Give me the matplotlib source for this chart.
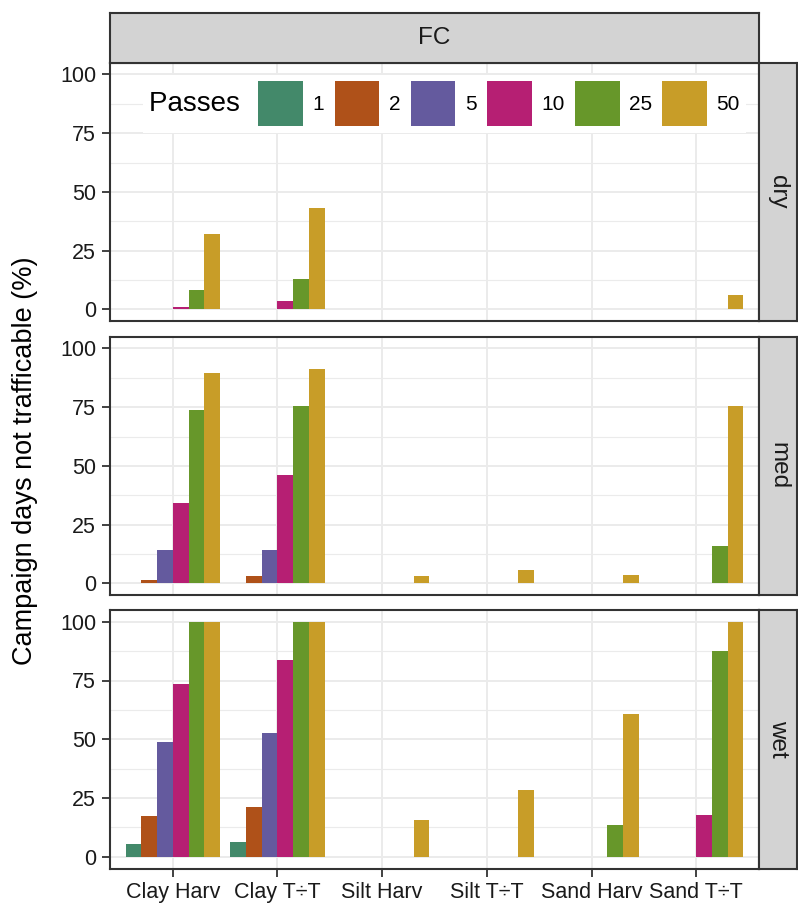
import matplotlib
matplotlib.use('Agg')
import matplotlib.pyplot as plt
import numpy as np
from matplotlib.ticker import MultipleLocator, FixedLocator
from matplotlib.patches import Patch

plt.rcParams['font.family'] = ['Liberation Sans', 'DejaVu Sans']

# ---------------- data ----------------
categories = ['Clay Harv', 'Clay T÷T', 'Silt Harv', 'Silt T÷T', 'Sand Harv', 'Sand T÷T']
passes = ['1', '2', '5', '10', '25', '50']
moisture = ['dry', 'med', 'wet']
column_label = 'FC'
y_ticks = [0, 25, 50, 75, 100]
y_label = 'Campaign days not trafficable (%)'
legend_title = 'Passes'

# rows = passes (1, 2, 5, 10, 25, 50); columns = categories
dry = [
    [0, 0, 0, 0, 0, 0],
    [0, 0, 0, 0, 0, 0],
    [0, 0, 0, 0, 0, 0],
    [1.0, 3.7, 0, 0, 0, 0],
    [8.2, 12.8, 0, 0, 0, 0],
    [32.0, 43.0, 0, 0, 0, 6.1],
]
med = [
    [0, 0, 0, 0, 0, 0],
    [1.4, 3.0, 0, 0, 0, 0],
    [14.1, 14.1, 0, 0, 0, 0],
    [34.3, 46.3, 0, 0, 0, 0],
    [73.8, 75.5, 0, 0, 0, 15.8],
    [89.6, 91.3, 3.0, 5.8, 3.8, 75.5],
]
wet = [
    [5.4, 6.4, 0, 0, 0, 0],
    [17.4, 21.2, 0, 0, 0, 0],
    [48.9, 52.6, 0, 0, 0, 0],
    [73.6, 83.9, 0, 0, 0, 17.7],
    [99.7, 99.7, 0, 0, 13.7, 87.7],
    [100.0, 100.0, 15.6, 28.6, 60.7, 99.7],
]
panel_data = [dry, med, wet]

colors = ['#43896A', '#AF5119', '#645A9E', '#B61F73', '#67972A', '#C89D28']

# ---------------- layout ----------------
W, H = 798, 909
fig = plt.figure(figsize=(W / 100, H / 100), dpi=100)
fig.patch.set_facecolor('white')

px_left, px_right = 110, 759
panel_tops = [62.7, 336.7, 610.0]
panel_h = 258.5
border_col = '#333333'
strip_col = '#D3D3D3'
grid_col = '#EBEBEB'

def fx(px):
    return px / W

def fy(py):
    return 1 - py / H

x = np.arange(1, len(categories) + 1)
bw = 0.15
axes = []
for i, (mname, data) in enumerate(zip(moisture, panel_data)):
    top = panel_tops[i]
    ax = fig.add_axes([fx(px_left), fy(top + panel_h), fx(px_right - px_left), panel_h / H])
    axes.append(ax)
    for j, p in enumerate(passes):
        ax.bar(x + (j - 2.5) * bw, data[j], width=bw, color=colors[j], label=p,
               linewidth=0, zorder=3)
    ax.set_xlim(0.4, 6.6)
    ax.set_ylim(-5, 105)
    ax.yaxis.set_major_locator(FixedLocator(y_ticks))
    ax.yaxis.set_minor_locator(MultipleLocator(12.5))
    ax.set_xticks(x)
    ax.set_axisbelow(True)
    ax.grid(which='major', color=grid_col, lw=1.4, zorder=0)
    ax.grid(which='minor', axis='y', color=grid_col, lw=0.8, zorder=0)
    ax.tick_params(which='minor', length=0)
    ax.tick_params(axis='y', which='major', length=6, width=1.3, color=border_col,
                   labelsize=15.5, labelcolor='#1a1a1a', pad=4)
    if i < 2:
        ax.tick_params(axis='x', which='major', length=0, labelbottom=False)
    else:
        ax.set_xticklabels(categories)
        ax.tick_params(axis='x', which='major', length=6, width=1.3, color=border_col,
                       labelsize=15.5, labelcolor='#1a1a1a', pad=4)
    for s in ax.spines.values():
        s.set_color(border_col)
        s.set_linewidth(1.5)
        s.set_zorder(5)

    # right strip
    sax = fig.add_axes([fx(px_right), fy(top + panel_h), fx(797 - px_right), panel_h / H])
    sax.set_facecolor(strip_col)
    sax.set_xticks([])
    sax.set_yticks([])
    for s in sax.spines.values():
        s.set_color(border_col)
        s.set_linewidth(1.5)
    sax.text(0.5, 0.5, mname, rotation=-90, ha='center', va='center',
             fontsize=17.5, color='#1a1a1a', transform=sax.transAxes)

# top strip
tax = fig.add_axes([fx(px_left), fy(62.7), fx(px_right - px_left), 50 / H])
tax.set_facecolor(strip_col)
tax.set_xticks([])
tax.set_yticks([])
for s in tax.spines.values():
    s.set_color(border_col)
    s.set_linewidth(1.5)
tax.text(0.5, 0.5, column_label, ha='center', va='center', fontsize=17.5,
         color='#1a1a1a', transform=tax.transAxes)

# y label
fig.text(fx(25), fy(461), y_label, rotation=90, ha='center', va='center',
         fontsize=19.5, color='black')

# legend (horizontal, title on the left)
handles = [Patch(facecolor=c, edgecolor='none') for c in colors]
ax0 = axes[0]
leg = ax0.legend(handles, passes, title=legend_title + ' ', ncol=len(passes),
                 loc='upper left', bbox_to_anchor=((143 - px_left) / (px_right - px_left),
                                                   (62.7 + panel_h - 75) / panel_h),
                 fontsize=15, title_fontsize=20, handlelength=2.15, handleheight=2.95,
                 handletextpad=0.45, columnspacing=0.5, borderpad=0.3,
                 frameon=True, fancybox=False, borderaxespad=0)
leg.get_frame().set_facecolor('white')
leg.get_frame().set_edgecolor('none')
leg.get_frame().set_alpha(1)
leg.set_zorder(10)
try:
    vp = leg._legend_box
    title_box, handle_box = vp.get_children()
    vp._children = [handle_box]
    handle_box._children = [title_box] + handle_box.get_children()
    handle_box.align = 'center'
except Exception:
    pass

fig.savefig('out.png', dpi=100, facecolor='white')
